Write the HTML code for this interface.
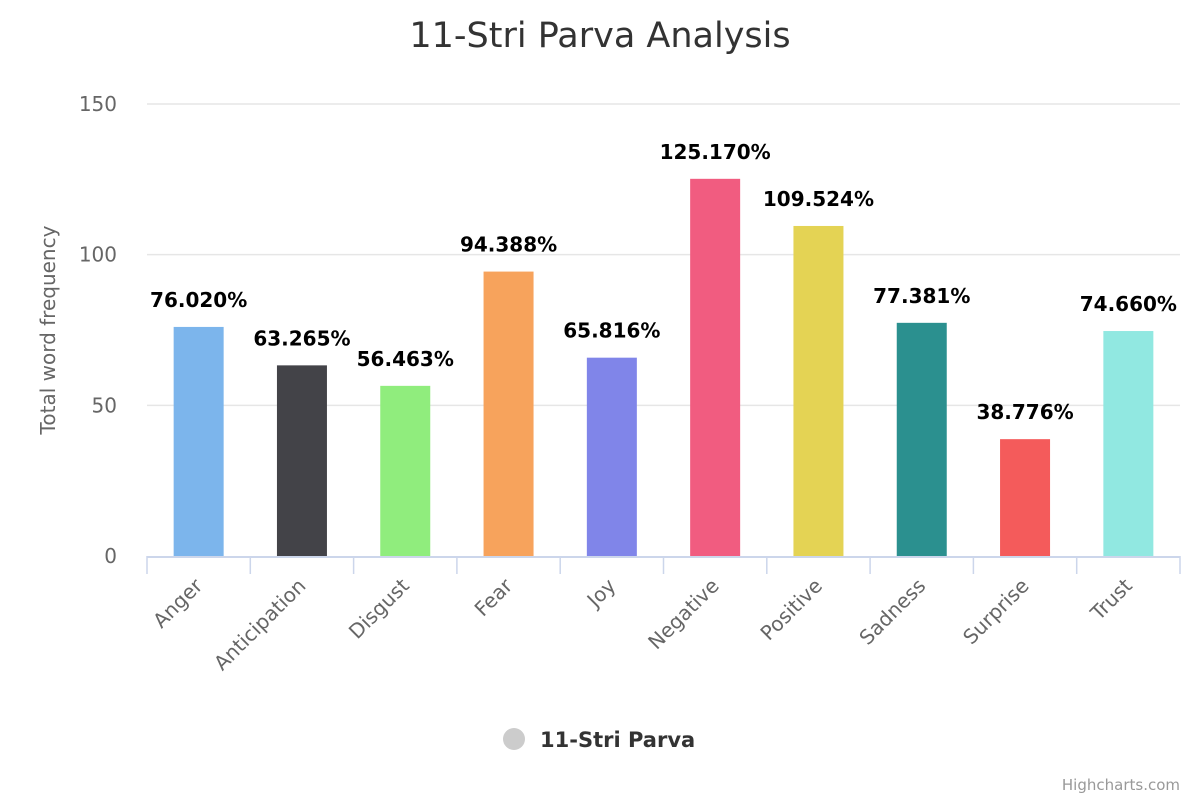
<!DOCTYPE html>
<html><head><meta charset="utf-8">
<style>
html,body{margin:0;padding:0;background:#fff;}
svg{display:block;font-family:"DejaVu Sans","Liberation Sans",sans-serif;}
</style></head>
<body>
<svg id="chart" width="1200" height="800">
<text x="600" y="47" text-anchor="middle" font-size="35" fill="#333">11-Stri Parva Analysis</text>
<g id="grid"></g>
<g id="bars"></g>
<g id="xaxis"></g>
<text transform="translate(55,330) rotate(-90)" text-anchor="middle" font-size="20" fill="#666">Total word frequency</text>
<g>
<circle cx="514" cy="739" r="11" fill="#ccc"/>
<text x="540" y="747" font-size="21" font-weight="bold" fill="#333">11-Stri Parva</text>
</g>
<text x="1180" y="790" text-anchor="end" font-size="15" fill="#999">Highcharts.com</text>
</svg>
<script>
const categories = ["Anger","Anticipation","Disgust","Fear","Joy","Negative","Positive","Sadness","Surprise","Trust"];
const values = [76.020,63.265,56.463,94.388,65.816,125.170,109.524,77.381,38.776,74.660];
const valueLabels = ["76.020%","63.265%","56.463%","94.388%","65.816%","125.170%","109.524%","77.381%","38.776%","74.660%"];
const colors = ["#7cb5ec","#434348","#90ed7d","#f7a35c","#8085e9","#f15c80","#e4d354","#2b908f","#f45b5b","#91e8e1"];
const yTicks = [0,50,100,150];

const NS="http://www.w3.org/2000/svg";
const plotLeft=147,plotRight=1180,plotTop=104,plotBottom=556,yMax=150;
const bw=(plotRight-plotLeft)/categories.length;
const yS=v=>plotBottom-(v/yMax)*(plotBottom-plotTop);
const xS=i=>plotLeft+bw*(i+0.5);
function mk(tag,attrs,parent,txt){const e=document.createElementNS(NS,tag);for(const k in attrs)e.setAttribute(k,attrs[k]);if(txt!=null)e.textContent=txt;parent.appendChild(e);return e;}
const grid=document.getElementById('grid'),bars=document.getElementById('bars'),xa=document.getElementById('xaxis');
yTicks.forEach(t=>{
  if(t>0){const l=mk('line',{x1:plotLeft,x2:plotRight,y1:yS(t),y2:yS(t),stroke:'#e6e6e6','stroke-width':1.5},grid);
  
  }
  const tx=mk('text',{x:117,y:yS(t)+7,'text-anchor':'end','font-size':20,fill:'#666'},grid,String(t));
  
  
});
mk('line',{x1:plotLeft,x2:plotRight,y1:plotBottom+1,y2:plotBottom+1,stroke:'#ccd6eb','stroke-width':2},xa);
for(let i=0;i<=categories.length;i++){mk('line',{x1:plotLeft+bw*i,x2:plotLeft+bw*i,y1:plotBottom,y2:plotBottom+18,stroke:'#ccd6eb','stroke-width':1.5},xa);}
categories.forEach((c,i)=>{
  const r=mk('rect',{x:xS(i)-25,y:yS(values[i]),width:50,height:plotBottom-yS(values[i]),fill:colors[i]},bars);
  
  
  const lb=mk('text',{x:xS(i),y:yS(values[i])-20,'text-anchor':'middle','font-size':20,'font-weight':'bold',fill:'#000'},bars,valueLabels[i]);
  
  
  const xt=mk('text',{transform:`translate(${xS(i)+5},${plotBottom+31}) rotate(-45)`,'text-anchor':'end','font-size':20,fill:'#666'},xa,c);
  
  
});
</script>
</body></html>
